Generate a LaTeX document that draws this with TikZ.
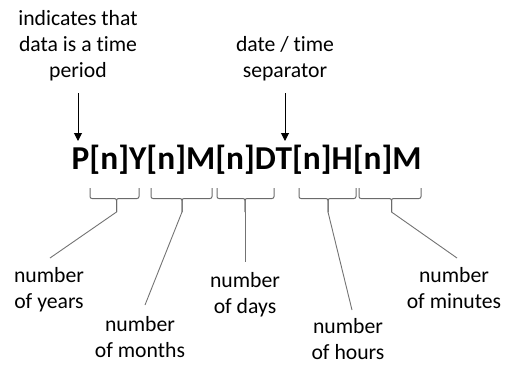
\documentclass[tikz,border=0pt]{standalone}
\usepackage{fontspec}
\setmainfont{Carlito}[Ligatures=NoCommon]
\usetikzlibrary{arrows.meta}
\tikzset{
  lbl/.style={inner sep=0pt, align=center, anchor=base,
    font=\fontsize{21.7}{26}\selectfont},
  arr/.style={line width=1pt, -{Triangle[width=8pt,length=8pt]}},
  bracepath/.style={draw=black!58, line width=1pt, rounded corners=2pt},
  lead/.style={draw=black!55, line width=0.9pt},
}
% one bracket under a span of the code: left x, right x, stem x, bottom of stem y
\newcommand{\spanbrace}[5]{%
  \draw[bracepath] (#1,188) |- (#3,198.5) -- (#3,#4);
  \draw[bracepath] (#2,188) |- (#3,198.5) -- (#3,#4);
  \coordinate (#5) at (#3,#4);
}
\begin{document}
\begin{tikzpicture}[x=1pt,y=-1pt]
\useasboundingbox (0,0) rectangle (512,365);

% headings above the code (anchored at the baseline of their last line)
\node[lbl] (period) at (78,77) {indicates that\\data is a time\\period};
\node[lbl] (sep) at (285,77) {date / time\\separator};

% the duration code
\node[inner sep=0pt, anchor=base west, font=\fontsize{33.4}{40}\selectfont\bfseries]
  (code) at (71.5,169) {P[n]Y[n]M[n]DT[n]H[n]M};

% arrows
\coordinate (pTop) at (78,93);
\coordinate (pEnd) at (78,141);
\coordinate (tTop) at (285,93);
\coordinate (tEnd) at (285,141);
\draw[arr] (pTop) -- (pEnd);
\draw[arr] (tTop) -- (tEnd);

% brackets under the fields
\spanbrace{90}{139}{116.5}{212}{byrs}
\spanbrace{151}{212}{182}{212}{bmon}
\spanbrace{217}{274}{245}{212}{bday}
\spanbrace{299}{356}{328}{212}{bhrs}
\spanbrace{359}{421}{391.5}{212}{bmin}

% field labels
\node[lbl] (yrs) at (49,308) {number\\of years};
\node[lbl] (mon) at (140,357) {number\\of months};
\node[lbl] (day) at (245,313) {number\\of days};
\node[lbl] (hrs) at (348,359) {number\\of hours};
\node[lbl] (mins) at (454,308) {number\\of minutes};

% leader lines from brackets to labels
\coordinate (yrsEnd) at (50,258);
\coordinate (monEnd) at (145,305);
\coordinate (dayEnd) at (245,262);
\coordinate (hrsEnd) at (352,310);
\coordinate (minEnd) at (457,258);
\draw[lead] (byrs) -- (yrsEnd);
\draw[lead] (bmon) -- (monEnd);
\draw[lead] (bday) -- (dayEnd);
\draw[lead] (bhrs) -- (hrsEnd);
\draw[lead] (bmin) -- (minEnd);
\end{tikzpicture}
\end{document}
